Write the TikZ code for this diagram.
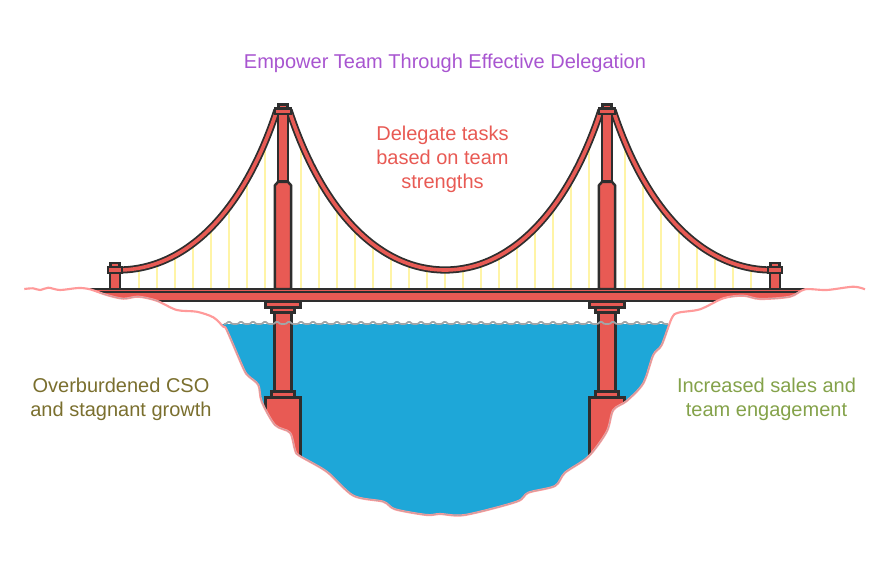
\documentclass[tikz,border=0pt]{standalone}
\usepackage{fontspec}
\setmainfont{Liberation Sans}
\definecolor{brick}{HTML}{E85A54}
\definecolor{ink}{HTML}{2E2E2E}
\definecolor{sea}{HTML}{1EA7D8}
\definecolor{hanger}{HTML}{FFF4A6}
\definecolor{shore}{HTML}{FF9A9A}
\definecolor{foam}{HTML}{A3A5A7}
\definecolor{ttl}{HTML}{A855D0}
\definecolor{oliv}{HTML}{7A6F2E}
\definecolor{leaf}{HTML}{84A24A}
\tikzset{
  part/.style={fill=brick,draw=ink,line width=1.85pt,line join=miter},
  cablecore/.style={draw=brick,line width=2.7pt},
  cableedge/.style={draw=ink,line width=5.4pt},
  hang/.style={draw=hanger,line width=1.6pt},
  lbl/.style={align=center,font=\fontsize{15}{18}\selectfont,inner sep=0pt},
}
\def\landline{plot[smooth,tension=.5] coordinates {(24.3,289)(33,288.3)(40,290)(48.3,287.7)(60,290)(78.3,288)(90,289.3)(106.7,295)(123.3,298.7)(138.3,296.7)(156.7,300.7)(176.7,310)(196.7,311.7)(213.3,317.3)(223.3,326.7)(226.7,330)(243.3,368.3)(248.3,376)(258.3,385)(261.7,401.7)(275,425)(290,432.7)(295,450)(299.3,455.7)(326.7,471.7)(353.3,495.7)(383.3,501.7)(395,509.3)(426.7,515)(440,514)(465,515)(516.7,501.7)(528.3,492.7)(555,486)(565,472.7)(588.3,456.7)(606.7,431.7)(613.3,410)(626.7,401)(643.3,383.3)(653.3,355)(661.7,345)(671.7,318.3)(678.3,312.7)(700,309.3)(723.3,298.3)(743.3,295.7)(760,299)(790,296.7)(805,289.3)(826.7,290)(853.3,286.7)(865,289.3)}}
\def\cableA{(120,270) .. controls (185,269) and (243,214) .. (277,110)}
\def\cableB{(289,110) .. controls (323,214) and (381,270) .. (445,270) .. controls (509,270) and (567,214) .. (601,110)}
\def\cableC{(613,110) .. controls (647,214) and (705,269) .. (770,270)}
\begin{document}
\begin{tikzpicture}[x=0.75pt,y=-0.75pt]
\useasboundingbox (0,0) rectangle (890,565);
% water
\begin{scope}
  \clip (0,324) rectangle (890,565);
  \fill[sea] \landline -- cycle;
\end{scope}
% hangers
\foreach \hx/\hy in {139/268,157/264,175/256,193/243.5,211/227.5,229/207.5,247/180.5,265/146.5,
  301/146.5,319/180.5,337/207.5,355/227.5,373/243.5,391/256,409/264,427/268,445/269.5,463/268,481/264,499/256,517/243.5,535/227.5,553/207.5,571/180.5,589/146.5,
  625/146.5,643/180.5,661/207.5,679/227.5,697/243.5,715/256,733/264,751/268}
  \draw[hang] (\hx,\hy) -- (\hx,289);
% cables
\foreach \cb in {\cableA,\cableB,\cableC}{
  \draw[cableedge] \cb;
  \draw[cablecore] \cb;
}
% anchors
\foreach \ax in {115,775}{
  \draw[part] (\ax-5,289) rectangle (\ax+5,273);
  \draw[part] (\ax-4.5,267) rectangle (\ax+4.5,263);
  \draw[part] (\ax-7.2,267) rectangle (\ax+7.2,273);
}
% towers
\foreach \tx in {283,607}{
  \draw[part] (\tx-5.1,181) rectangle (\tx+5.1,114);
  \draw[part] (\tx-4.3,108.5) rectangle (\tx+4.3,104.7);
  \draw[part] (\tx-8.2,108.5) rectangle (\tx+8.2,114);
  \draw[part] (\tx-8.2,289) -- (\tx-8.2,185.5) -- (\tx-5.1,182) -- (\tx+5.1,182) -- (\tx+8.2,185.5) -- (\tx+8.2,289) -- cycle;
  \draw[part] (\tx-8.5,312.5) rectangle (\tx+8.5,391.7);
  \draw[part] (\tx-11.5,307.5) rectangle (\tx+11.5,312.5);
  \draw[part] (\tx-17.5,301.3) rectangle (\tx+17.5,307.5);
  \draw[part] (\tx-11.5,391.7) rectangle (\tx+11.5,397.5);
  \begin{scope}
    \clip \landline -- cycle;
    \draw[part] (\tx-17.5,397.5) rectangle (\tx+17.5,480);
  \end{scope}
}
% deck
\begin{scope}
  \clip \landline -- (890,289) -- (890,0) -- (0,0) -- (0,289) -- cycle;
  \fill[brick] (88,289) rectangle (805,300.7);
  \fill[ink] (88,288.2) rectangle (805,290);
  \fill[ink] (88,291) rectangle (805,292.6);
  \fill[ink] (88,300) rectangle (805,301.8);
\end{scope}
% shore and surface
\draw[shore,line width=1.6pt] \landline;
\begin{scope}
  \clip (100,285) rectangle (160,310) (730,285) rectangle (800,310) (225,330) rectangle (670,520);
  \draw[foam,line width=0.45pt,opacity=.7] \landline;
\end{scope}
\draw[foam,line width=1.3pt] plot[domain=224:668,samples=223,smooth] (\x,{324-2.4*pow(abs(cos(15*(\x-229))),6)});
% texts
\node[lbl,text=ttl] (title) at (445,63.5) {Empower Team Through Effective Delegation};
\node[lbl,text=brick] (delegate) at (442.5,159.5) {Delegate tasks\\based on team\\strengths};
\node[lbl,text=oliv] (before) at (121,399.5) {Overburdened CSO\\and stagnant growth};
\node[lbl,text=leaf] (after) at (766.5,399.5) {Increased sales and\\team engagement};
\end{tikzpicture}
\end{document}
